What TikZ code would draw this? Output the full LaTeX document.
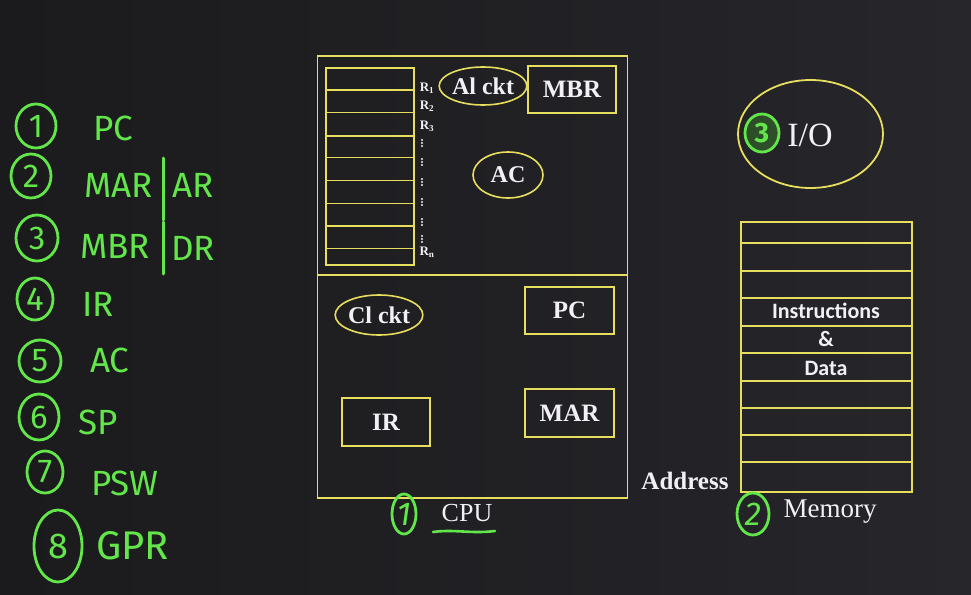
\documentclass[tikz,border=0pt]{standalone}
\usepackage{fontspec}
\setmainfont{Liberation Serif}
\newfontfamily\greenfont{Fira Sans}
\newfontfamily\memfont{Carlito}
\usetikzlibrary{shapes.geometric}
\definecolor{bgl}{HTML}{1B1B1D}
\definecolor{bgr}{HTML}{26262B}
\definecolor{yel}{HTML}{E8DE5E}
\definecolor{grn}{HTML}{62E64A}
\definecolor{txt}{HTML}{F2F0F6}
\begin{document}
\begin{tikzpicture}[x=1pt,y=-1pt,
  ybox/.style={draw=yel,line width=1.8pt,text=txt,inner sep=0pt,font=\fontsize{25}{25}\selectfont\bfseries},
  yell/.style={ellipse,draw=yel,line width=1.6pt,text=txt,inner sep=0pt,font=\fontsize{24}{24}\selectfont\bfseries},
  yline/.style={draw=yel,line width=1.4pt},
  rlab/.style={text=txt,font=\fontsize{13}{13}\selectfont\bfseries,inner sep=0pt},
  gcirc/.style={ellipse,draw=grn,line width=2.8pt,inner sep=0pt,text=grn,font=\greenfont\fontsize{33}{33}\selectfont},
  gtxt/.style={text=grn,font=\greenfont\fontsize{35}{35}\selectfont,inner sep=0pt,anchor=west},
  memtxt/.style={text=txt,font=\memfont\bfseries\fontsize{22}{22}\selectfont,inner sep=0pt},
  wtxt/.style={text=txt,inner sep=0pt}
]
\useasboundingbox (0,0) rectangle (971,594);
\shade[left color=bgl,right color=bgr] (0,0) rectangle (971,594);
\fill[white!80!cyan,opacity=0.7] (32,0) arc[start angle=180,end angle=360,x radius=16,y radius=3] -- cycle;

% ---------- CPU ----------
\node (cpu) [draw=yel,line width=1.4pt,minimum width=310,minimum height=442,inner sep=0pt] at (472.5,277) {};
\coordinate (divl) at (318,275);
\coordinate (divr) at (627,275);
\draw[yline] (divl) -- (divr);

% register stack
\node (reg) [draw=yel,line width=1.6pt,minimum width=88,minimum height=197,inner sep=0pt] at (370,166.5) {};
\foreach \yy in {90,112.7,136,157.3,180.7,203.3,226,248.3}
  \draw[yline] (326,\yy) -- (414,\yy);
\node (r1) [rlab] at (427,88) {R\textsubscript{1}};
\node (r2) [rlab] at (427,106) {R\textsubscript{2}};
\node (r3) [rlab] at (427,126) {R\textsubscript{3}};
\node (rn) [rlab] at (427,252) {R\textsubscript{n}};
\foreach \yy in {143,162,182,202,222,239}
  \foreach \dd in {-3,0,3}
    \fill[txt] (422,\yy+\dd) circle[radius=1.2];

\node (alckt) [yell,minimum width=75,minimum height=38] at (483,86) {Al ckt};
\node (mbr) [ybox,minimum width=88,minimum height=47] at (572,89.5) {MBR};
\node (ac) [yell,minimum width=70,minimum height=46] at (508,175) {AC};

\node (clckt) [yell,minimum width=74,minimum height=40] at (379,315) {Cl ckt};
\node (pc) [ybox,minimum width=89,minimum height=47] at (569.5,310.5) {PC};
\node (ir) [ybox,minimum width=88,minimum height=48] at (386,422) {IR};
\node (mar) [ybox,minimum width=89,minimum height=48] at (569.5,413) {MAR};

\node (cpulab) [wtxt,font=\fontsize{26}{26}\selectfont] at (467,513) {CPU};
\node (c1) [gcirc,minimum width=24,minimum height=40] at (404,514) {\itshape 1};
\coordinate (ul1) at (433,532);
\coordinate (ul2) at (495,531);
\draw[grn,line width=2.6pt,line cap=round] (ul1) .. controls (455,529) and (470,534) .. (ul2);

% ---------- I/O ----------
\node (io) [ellipse,draw=yel,line width=1.8pt,minimum width=145,minimum height=108,inner sep=0pt] at (810.5,134) {};
\node (iolab) [wtxt,font=\fontsize{34}{34}\selectfont] at (810,135) {I/O};
\node (c3) [gcirc,minimum width=34,minimum height=38,fill=grn!25!bgl,font=\greenfont\bfseries\fontsize{28}{28}\selectfont] at (762,133) {3};

% ---------- Memory ----------
\node (mem) [draw=yel,line width=1.6pt,minimum width=171,minimum height=270,inner sep=0pt] at (826.5,357) {};
\foreach \yy in {243,271,298,326,353,381,408,435,462}
  \draw[yline] (741,\yy) -- (912,\yy);
\node (instr) [memtxt] at (826,311) {Instructions};
\node (amp) [memtxt] at (826,339) {\&};
\node (data) [memtxt] at (826,368) {Data};
\node (addr) [wtxt,font=\fontsize{25}{25}\selectfont\bfseries] at (685,481) {Address};
\node (memlab) [wtxt,font=\fontsize{27}{27}\selectfont] at (830,512) {Memory};
\node (c2) [gcirc,minimum width=32,minimum height=42] at (753,514) {\itshape 2};

% ---------- left list ----------
\node (n1) [gcirc,minimum width=40,minimum height=44] at (36,126) {1};
\node (t1) [gtxt] at (93,128) {PC};
\node (n2) [gcirc,minimum width=40,minimum height=44] at (31,176) {2};
\node (t2) [gtxt] at (84,185) {MAR};
\node (t2b) [gtxt] at (172,185) {AR};
\node (n3) [gcirc,minimum width=42,minimum height=46] at (37,238) {3};
\node (t3) [gtxt] at (80,246) {MBR};
\node (t3b) [gtxt] at (171,248) {DR};
\coordinate (b1a) at (163,158);
\coordinate (b1b) at (163,220);
\coordinate (b2a) at (163,222);
\coordinate (b2b) at (163,274);
\draw[grn,line width=3pt,line cap=round] (b1a) -- (b1b);
\draw[grn,line width=3pt,line cap=round] (b2a) -- (b2b);
\node (n4) [gcirc,minimum width=36,minimum height=42] at (35,299) {4};
\node (t4) [gtxt] at (82,304) {IR};
\node (n5) [gcirc,minimum width=42,minimum height=42] at (40,361) {5};
\node (t5) [gtxt] at (90,360) {AC};
\node (n6) [gcirc,minimum width=40,minimum height=46] at (39,417) {6};
\node (t6) [gtxt] at (78,422) {SP};
\node (n7) [gcirc,minimum width=36,minimum height=42] at (45,472) {7};
\node (t7) [gtxt] at (91,483) {PSW};
\node (n8) [gcirc,minimum width=48,minimum height=72,font=\greenfont\fontsize{36}{36}\selectfont] at (58,546) {8};
\node (t8) [gtxt,font=\greenfont\fontsize{40}{40}\selectfont] at (96,546) {GPR};
\end{tikzpicture}
\end{document}
